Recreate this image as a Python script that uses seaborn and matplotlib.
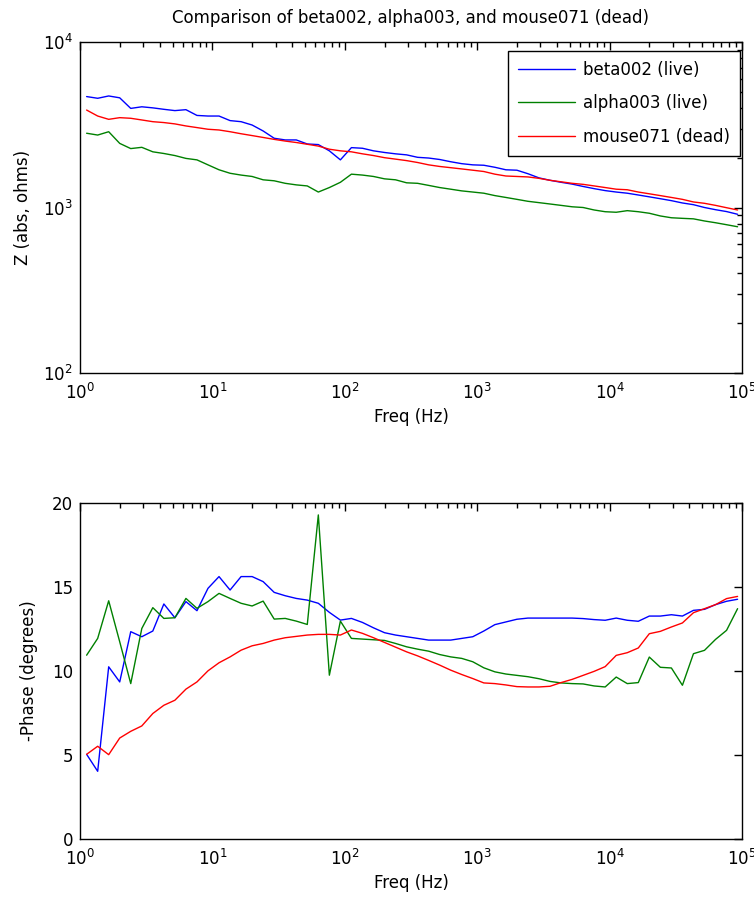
import numpy as np
import pandas as pd
import matplotlib
matplotlib.use("Agg")
import matplotlib.pyplot as plt
from matplotlib.ticker import FuncFormatter, LogLocator, NullLocator, MultipleLocator
import seaborn as sns

# ---------------- data ----------------
freq = [1.122, 1.360, 1.647, 1.995, 2.417, 2.929, 3.548, 4.299, 5.208, 6.310,
        7.645, 9.261, 11.22, 13.60, 16.47, 19.95, 24.17, 29.29, 35.48, 42.99,
        52.08, 63.10, 76.45, 92.61, 112.2, 136.0, 164.7, 199.5, 241.7, 292.9,
        354.8, 429.9, 520.8, 631.0, 764.5, 926.1, 1122, 1360, 1647, 1995,
        2417, 2929, 3548, 4299, 5208, 6310, 7645, 9261, 11220, 13600,
        16470, 19950, 24170, 29290, 35480, 42990, 52080, 63100, 76450, 92610]

series_names = ["beta002 (live)", "alpha003 (live)", "mouse071 (dead)"]

z_beta = [4680, 4570, 4720, 4600, 3970, 4060, 4000, 3920, 3850, 3900,
          3600, 3570, 3570, 3350, 3300, 3150, 2900, 2620, 2560, 2560,
          2420, 2400, 2200, 1940, 2300, 2280, 2200, 2150, 2110, 2080,
          2010, 1990, 1950, 1890, 1840, 1810, 1800, 1750, 1690, 1680,
          1600, 1510, 1460, 1420, 1385, 1340, 1300, 1265, 1240, 1220,
          1190, 1160, 1130, 1100, 1065, 1040, 1000, 970, 945, 910]
z_alpha = [2810, 2740, 2870, 2440, 2270, 2310, 2170, 2120, 2060, 1980,
           1940, 1810, 1690, 1610, 1570, 1540, 1470, 1450, 1400, 1370,
           1350, 1240, 1320, 1420, 1590, 1570, 1540, 1490, 1470, 1410,
           1400, 1360, 1320, 1290, 1260, 1240, 1220, 1180, 1150, 1120,
           1090, 1070, 1050, 1030, 1010, 1000, 966, 943, 936, 957,
           943, 923, 889, 867, 860, 854, 829, 809, 787, 765]
z_mouse = [3880, 3570, 3410, 3490, 3460, 3380, 3300, 3260, 3200, 3110,
           3040, 2970, 2940, 2870, 2790, 2720, 2650, 2580, 2520, 2470,
           2410, 2350, 2250, 2200, 2170, 2110, 2060, 2000, 1960, 1920,
           1870, 1810, 1770, 1740, 1710, 1680, 1650, 1590, 1550, 1540,
           1530, 1500, 1460, 1430, 1400, 1380, 1350, 1320, 1290, 1280,
           1240, 1210, 1180, 1150, 1120, 1080, 1060, 1030, 997, 966]

ph_beta = [5.04, 4.03, 10.25, 9.35, 12.34, 12.04, 12.38, 13.99, 13.17, 14.13,
           13.59, 14.92, 15.62, 14.82, 15.62, 15.62, 15.32, 14.68, 14.48, 14.32,
           14.22, 14.03, 13.49, 13.03, 13.13, 12.89, 12.57, 12.28, 12.14, 12.04,
           11.94, 11.84, 11.84, 11.84, 11.94, 12.04, 12.38, 12.76, 12.92, 13.08,
           13.15, 13.15, 13.15, 13.15, 13.15, 13.12, 13.06, 13.02, 13.15, 13.02,
           12.96, 13.27, 13.27, 13.35, 13.27, 13.61, 13.67, 13.95, 14.15, 14.27]
ph_alpha = [10.94, 11.94, 14.18, 11.74, 9.25, 12.53, 13.77, 13.13, 13.17, 14.32,
            13.73, 14.13, 14.62, 14.32, 14.03, 13.87, 14.16, 13.09, 13.13, 12.97,
            12.77, 19.29, 9.75, 12.97, 11.94, 11.90, 11.86, 11.82, 11.64, 11.44,
            11.30, 11.18, 10.98, 10.84, 10.75, 10.55, 10.19, 9.95, 9.82, 9.74,
            9.66, 9.54, 9.38, 9.29, 9.25, 9.23, 9.11, 9.05, 9.64, 9.25,
            9.31, 10.83, 10.22, 10.18, 9.15, 11.03, 11.23, 11.88, 12.42, 13.71]
ph_mouse = [5.04, 5.52, 5.02, 6.01, 6.41, 6.73, 7.47, 7.96, 8.26, 8.92,
            9.35, 10.01, 10.49, 10.84, 11.24, 11.50, 11.64, 11.84, 11.98, 12.06,
            12.14, 12.18, 12.18, 12.14, 12.44, 12.24, 11.98, 11.70, 11.42, 11.14,
            10.90, 10.63, 10.35, 10.05, 9.79, 9.55, 9.29, 9.25, 9.17, 9.07,
            9.05, 9.05, 9.09, 9.31, 9.50, 9.74, 9.98, 10.26, 10.93, 11.09,
            11.37, 12.22, 12.36, 12.62, 12.86, 13.47, 13.71, 13.95, 14.31, 14.44]

colors = {"beta002 (live)": "#0000ff", "alpha003 (live)": "#008000",
          "mouse071 (dead)": "#ff0000"}

rows = []
for name, z, ph in zip(series_names, [z_beta, z_alpha, z_mouse],
                       [ph_beta, ph_alpha, ph_mouse]):
    for f, zz, pp in zip(freq, z, ph):
        rows.append({"freq": f, "Z": zz, "phase": pp, "series": name})
df = pd.DataFrame(rows)

# ---------------- style ----------------
sns.set_theme(style="white")
plt.rcParams["font.family"] = ["DejaVu Sans"]
plt.rcParams["axes.edgecolor"] = "black"
plt.rcParams["axes.linewidth"] = 1.0
plt.rcParams["text.color"] = "black"
plt.rcParams["axes.labelcolor"] = "black"
plt.rcParams["xtick.color"] = "black"
plt.rcParams["ytick.color"] = "black"

fig = plt.figure(figsize=(7.54, 9.11), dpi=100)
ax1 = fig.add_axes([80/754, 1-373/911, 662/754, 331/911])
ax2 = fig.add_axes([80/754, 1-839/911, 662/754, 336/911])

for ax, ycol in [(ax1, "Z"), (ax2, "phase")]:
    sns.lineplot(data=df, x="freq", y=ycol, hue="series", palette=colors,
                 hue_order=series_names, estimator=None, sort=False,
                 linewidth=1.0, ax=ax, legend=(ax is ax1))

pow_fmt = FuncFormatter(lambda v, p: r"$\mathregular{10^{%d}}$" % int(round(np.log10(v))))

for ax in (ax1, ax2):
    ax.set_xscale("log")
    ax.set_xlim(1, 1e5)
    ax.xaxis.set_major_locator(LogLocator(base=10, numticks=10))
    ax.xaxis.set_minor_locator(LogLocator(base=10, subs=np.arange(2, 10), numticks=20))
    ax.xaxis.set_major_formatter(pow_fmt)
    ax.set_xlabel("Freq (Hz)", fontsize=12, labelpad=4)
    ax.tick_params(which="both", direction="in", top=True, right=True,
                   labelsize=12, width=1.0)
    ax.tick_params(axis="x", pad=7)
    ax.tick_params(axis="y", pad=5)
    ax.tick_params(which="major", length=6)
    ax.tick_params(which="minor", length=3.5)
    for s in ax.spines.values():
        s.set_visible(True)
        s.set_color("black")

ax1.set_yscale("log")
ax1.set_ylim(100, 1e4)
ax1.yaxis.set_major_locator(LogLocator(base=10, numticks=10))
ax1.yaxis.set_minor_locator(LogLocator(base=10, subs=np.arange(2, 10), numticks=20))
ax1.yaxis.set_major_formatter(pow_fmt)
ax1.set_ylabel("Z (abs, ohms)", fontsize=12, labelpad=8)
ax1.set_title("Comparison of beta002, alpha003, and mouse071 (dead)",
              fontsize=12, pad=14)

ax2.set_ylim(0, 20)
ax2.yaxis.set_major_locator(MultipleLocator(5))
ax2.yaxis.set_minor_locator(NullLocator())
ax2.set_ylabel("-Phase (degrees)", fontsize=12, labelpad=10)

handles, labels = ax1.get_legend_handles_labels()
leg = ax1.legend(handles, labels, loc="upper right",
                 bbox_to_anchor=(0.997, 0.973), borderaxespad=0.0,
                 fontsize=12, frameon=True, fancybox=False, shadow=False,
                 framealpha=1, edgecolor="black", handlelength=3.4,
                 handletextpad=0.48, labelspacing=0.92, borderpad=0.6)
leg.get_frame().set_linewidth(1.0)

fig.savefig("out.png", dpi=100)
